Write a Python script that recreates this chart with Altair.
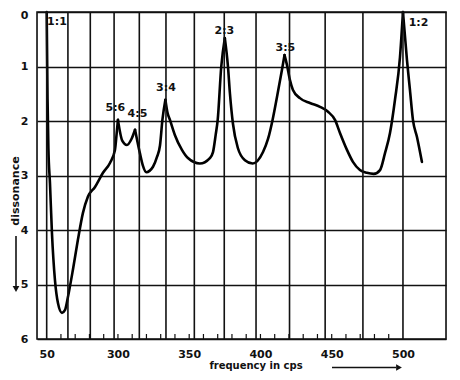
import altair as alt
import pandas as pd

# dissonance curve (frequency in cps, dissonance)
freq = [250.0, 250.6, 251.2, 252.3, 253.7, 255.8, 257.9, 260.7, 262.8, 264.9, 268.4,
        271.9, 275.4, 278.9, 283.9, 289.5, 294.4, 297.9, 299.3, 300.0,
        303.0, 306.3, 309.5, 312.0,
        315.4, 317.5, 319.9, 324.6, 327.4, 329.5, 331.2, 333.3,
        334.8, 336.5, 340.0, 344.9, 349.1, 357.5, 364.5, 366.7, 368.6, 370.0, 372.5, 375.0,
        377.2, 378.6, 380.7, 384.2, 389.1, 394.5, 401.8, 405.3, 408.5, 411.6,
        415.1, 416.9,
        418.6, 420.7, 422.8, 427.7, 434.7, 441.8, 447.4, 452.3, 455.8, 460.7, 464.9,
        469.8, 474.7, 479.5, 483.9, 487.4, 490.9, 494.4, 497.9, 500.0,
        502.8, 504.9, 507.0, 509.8, 513.3]
diss = [0.0, 1.6, 2.5, 3.14, 4.06, 4.92, 5.34, 5.52, 5.47, 5.23, 4.73,
        4.18, 3.69, 3.39, 3.21, 2.95, 2.77, 2.53, 2.17, 1.98,
        2.36, 2.44, 2.33, 2.16,
        2.59, 2.82, 2.94, 2.84, 2.66, 2.45, 1.98, 1.61,
        1.85, 1.98, 2.26, 2.53, 2.68, 2.78, 2.68, 2.57, 2.25, 1.98, 1.0, 0.48,
        1.0, 1.5, 2.05, 2.5, 2.72, 2.78, 2.57, 2.33, 1.98, 1.56,
        1.06, 0.79,
        0.97, 1.25, 1.43, 1.58, 1.67, 1.74, 1.83, 1.98, 2.22, 2.53, 2.75,
        2.90, 2.95, 2.97, 2.90, 2.59, 2.22, 1.61, 0.83, 0.0,
        0.88, 1.43, 1.98, 2.29, 2.75]
# frequencies of the sharp peaks (the curve is drawn piecewise between them)
peak_freq = [300.0, 312.0, 333.3, 375.0, 416.9, 500.0]

# interval labels
ratio_text = ["1:1", "5:6", "4:5", "3:4", "2:3", "3:5", "1:2"]
ratio_freq = [257.2, 298.2, 313.7, 333.7, 374.7, 417.5, 510.9]
ratio_diss = [0.19, 1.76, 1.87, 1.39, 0.35, 0.66, 0.21]

# vertical grid lines (semitone steps)
grid_freq = [250.0, 264.9, 280.6, 297.3, 315.0, 333.7, 353.6, 374.6, 396.9, 420.4,
             445.4, 471.9, 500.0]
# small inner ticks on the frequency axis
minor_ticks = [260, 270, 280, 290, 300, 310, 320, 330, 340, 350, 360, 370, 380, 390,
               400, 410, 420, 430, 440, 450, 460, 470, 480, 490]
# axis labels
x_label_values = [250, 300, 350, 400, 450, 500]
y_label_values = [0, 1, 2, 3, 4, 5, 6]

FONT = "DejaVu Sans"
INK = "#111"

rows = []
for f, d in zip(freq, diss):
    s = sum(1 for p in peak_freq if p < f)
    rows.append({"freq": f, "diss": d, "seg": s})
    if f in peak_freq:
        rows.append({"freq": f, "diss": d, "seg": s + 1})
curve_df = pd.DataFrame(rows)
ratio_df = pd.DataFrame({"freq": ratio_freq, "diss": ratio_diss, "label": ratio_text})
grid_df = pd.DataFrame({"freq": grid_freq})
tick_df = pd.DataFrame({"freq": minor_ticks})
one = pd.DataFrame({"a": [0]})

xs = alt.Scale(domain=[243.2, 530.2], nice=False, zero=False)
ys = alt.Scale(domain=[0, 6], reverse=True, nice=False, zero=False)

x_axis = alt.Axis(
    values=x_label_values, title=None, grid=False, ticks=False, domain=False,
    labelPadding=9, labelFont=FONT, labelFontSize=11, labelFontWeight="bold",
    labelColor=INK, labelExpr="datum.value == 250 ? '50' : datum.label")
y_axis = alt.Axis(
    values=y_label_values, title=None, grid=True, gridColor=INK, gridWidth=1.6,
    gridOpacity=1, ticks=False, domain=False, labelPadding=9, labelFont=FONT,
    labelFontSize=11, labelFontWeight="bold", labelColor=INK,
    labelOffset={"condition": {"test": "datum.value == 0", "value": 3}, "value": 0})

X = alt.X("freq:Q", scale=xs, axis=x_axis)
Y = alt.Y("diss:Q", scale=ys, axis=y_axis)

frame = alt.Chart(one).mark_rect(
    fill=None, fillOpacity=0, stroke=INK, strokeWidth=1.6
).encode(x=alt.value(0), x2=alt.value(409), y=alt.value(0), y2=alt.value(327))

grid = alt.Chart(grid_df).mark_rule(color=INK, strokeWidth=1.6).encode(x=X)

ticks = alt.Chart(tick_df).mark_rule(color=INK, strokeWidth=1.2).encode(
    x=X, y=alt.value(322), y2=alt.value(327))

curve = alt.Chart(curve_df).mark_line(
    color="black", strokeWidth=2.6, interpolate="monotone", strokeCap="round",
    strokeJoin="round"
).encode(x=X, y=Y, detail="seg:N")

labels = alt.Chart(ratio_df).mark_text(
    font=FONT, fontSize=11, fontWeight="bold", color=INK,
    align="center", baseline="middle"
).encode(x=X, y=Y, text="label:N")

ytitle = alt.Chart(one).mark_text(
    font=FONT, fontSize=11, fontWeight="bold", color=INK, angle=270,
    align="center", baseline="middle"
).encode(x=alt.value(-21), y=alt.value(179), text=alt.value("dissonance"))

yarrow = alt.Chart(one).mark_rule(color=INK, strokeWidth=1.6).encode(
    x=alt.value(-21), y=alt.value(224), y2=alt.value(274))
yhead = alt.Chart(one).mark_point(
    shape="triangle-down", filled=True, color=INK, size=45, opacity=1
).encode(x=alt.value(-21), y=alt.value(277))

xtitle = alt.Chart(one).mark_text(
    font=FONT, fontSize=10, fontWeight="bold", color=INK,
    align="center", baseline="middle"
).encode(x=alt.value(219), y=alt.value(354), text=alt.value("frequency in cps"))

xarrow = alt.Chart(one).mark_rule(color=INK, strokeWidth=1.6).encode(
    x=alt.value(295), x2=alt.value(359), y=alt.value(355.5))
xhead = alt.Chart(one).mark_point(
    shape="triangle-right", filled=True, color=INK, size=45, opacity=1
).encode(x=alt.value(362), y=alt.value(355.5))

chart = alt.layer(
    curve, grid, ticks, labels, frame, ytitle, yarrow, yhead, xtitle, xarrow, xhead
).properties(
    width=409,
    height=327,
    autosize=alt.AutoSizeParams(type="none"),
    padding={"left": 29, "top": 4, "right": 6, "bottom": 33},
).configure_view(
    stroke=None
).configure(background="white")

chart.save("out.html", embed_options={"renderer": "svg", "actions": False})
